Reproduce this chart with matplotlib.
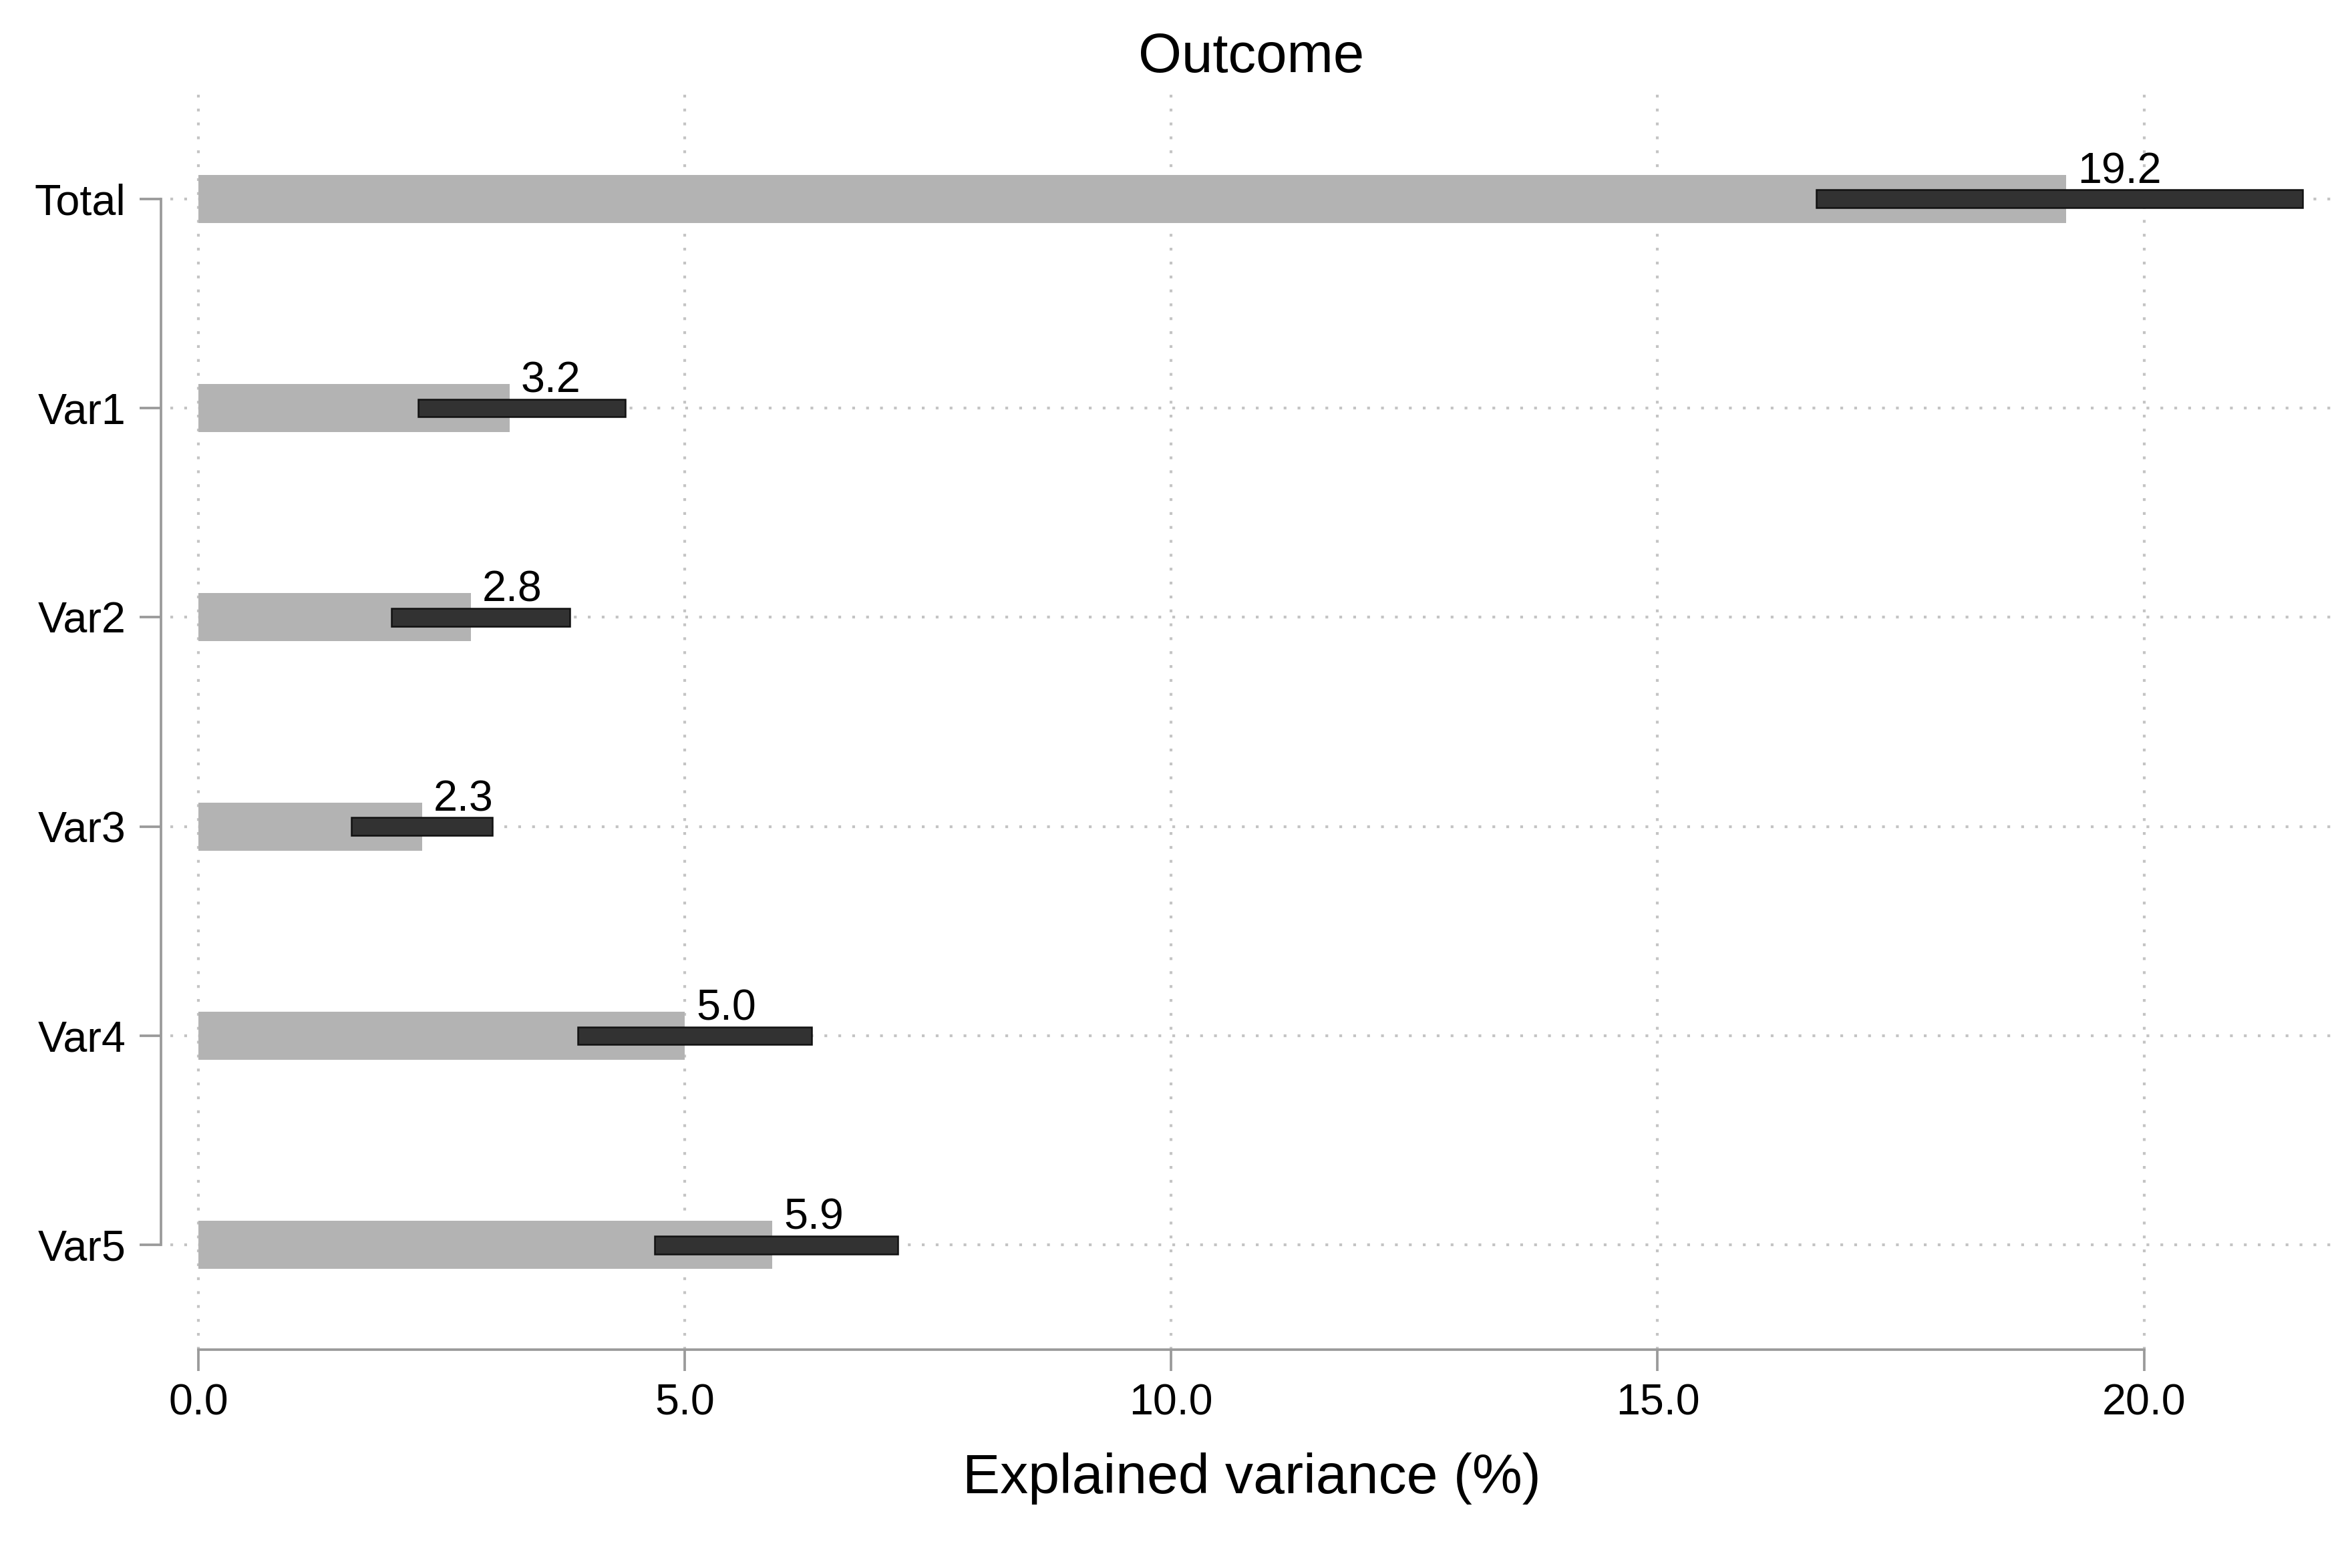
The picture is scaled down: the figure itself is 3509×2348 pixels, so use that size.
import numpy as np
import matplotlib
matplotlib.use("Agg")
import matplotlib.pyplot as plt

plt.rcParams['font.family'] = ['Liberation Sans', 'DejaVu Sans']

# explained variance (%) with interval limits
categories = ['Total', 'Var1', 'Var2', 'Var3', 'Var4', 'Var5']
estimate = [19.2, 3.2, 2.8, 2.3, 5.0, 5.9]
ci_low = [16.63, 2.26, 1.98, 1.57, 3.90, 4.69]
ci_high = [21.63, 4.39, 3.82, 3.02, 6.30, 7.19]
xticks = [0, 5, 10, 15, 20]

DPI = 300
W, H = 3509, 2348
fig = plt.figure(figsize=(W / DPI, H / DPI), dpi=DPI)
# axes box in pixels: left 255, right 3492, top 141, bottom 2021
ax = fig.add_axes([255 / W, 1 - 2021 / H, (3492 - 255) / W, (2021 - 141) / H])

ypos = np.arange(len(categories))
grid_kw = dict(color='#c4c4c4', lw=1.0, linestyle=(0, (1, 4)), zorder=0)

# dotted grid lines (vertical at ticks, horizontal at each category)
for xt in xticks:
    ax.axvline(xt, **grid_kw)
for y in ypos:
    ax.axhline(y, **grid_kw)

# grey bars for the estimate
ax.barh(ypos, estimate, height=0.23, color='#b3b3b3', zorder=2)

# dark bars for the interval
ci_width = np.array(ci_high) - np.array(ci_low)
ax.barh(ypos, ci_width, left=ci_low, height=0.085, color='#323232',
        edgecolor='#111111', linewidth=0.6, zorder=3)

# value labels at the end of the grey bar
for y, v in zip(ypos, estimate):
    ax.annotate(f'{v:.1f}', xy=(v, y - 0.115), xytext=(4, -3),
                textcoords='offset points', ha='left', va='baseline',
                fontsize=15.5, color='black', zorder=4)

ax.set_xlim(-0.29, 21.94)
ax.set_ylim(5.5, -0.5)

ax.set_xticks(xticks)
ax.set_xticklabels([f'{t:.1f}' for t in xticks])
ax.set_yticks(ypos)
ax.set_yticklabels(categories)

for s in ['top', 'right']:
    ax.spines[s].set_visible(False)
ax.spines['left'].set_position(('outward', 3.4))
ax.spines['left'].set_bounds(0, len(categories) - 1)
ax.spines['bottom'].set_bounds(0, 20)
for s in ['left', 'bottom']:
    ax.spines[s].set_color('#9a9a9a')
    ax.spines[s].set_linewidth(0.9)

ax.tick_params(axis='both', colors='#9a9a9a', labelcolor='black',
               length=7.6, width=0.9, labelsize=15.5)
ax.tick_params(axis='x', pad=4.5)
ax.tick_params(axis='y', pad=5)

ax.set_title('Outcome', fontsize=20, pad=8)
ax.set_xlabel('Explained variance (%)', fontsize=20.2, labelpad=10.5)

fig.savefig('out.png', dpi=DPI, facecolor='white')
